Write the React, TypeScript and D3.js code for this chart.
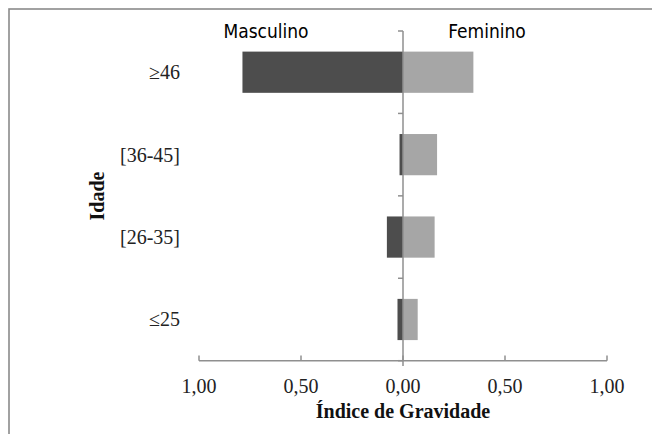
import React from "react";
import * as d3 from "d3";

// faixas etárias, de cima para baixo
const ageGroups = ["≥46", "[36-45]", "[26-35]", "≤25"];
const masculino = [0.787, 0.017, 0.079, 0.027];
const feminino = [0.345, 0.167, 0.155, 0.072];
const xTicks = [-1, -0.5, 0, 0.5, 1];

const W = 652;
const H = 434;

export default function App() {
  const x = d3.scaleLinear().domain([-1, 1]).range([199, 607]);
  const y = d3.scaleBand().domain(ageGroups).range([31, 360.7]).paddingInner(0.5).paddingOuter(0.25);
  const yBand = d3.scaleBand().domain(ageGroups).range([31, 360.7]);
  const fmt = (v: number) => d3.format(".2f")(Math.abs(v)).replace(".", ",");
  const axisColor = "#8f8f8f";
  const serif = "'Liberation Serif', 'Times New Roman', serif";
  const sans = "'DejaVu Sans Condensed', 'DejaVu Sans', sans-serif";

  return (
    <svg width={W} height={H} style={{ position: "absolute", left: 0, top: 0 }}>
      <rect x={0} y={0} width={W} height={H} fill="#fff" />
      <rect x={9} y={9} width={W + 20} height={H + 20} fill="none" stroke="#8a8a8a" strokeWidth={1.6} />

      {/* barras */}
      {ageGroups.map((g, i) => (
        <g key={g}>
          <rect
            x={x(-masculino[i])}
            y={y(g)}
            width={x(0) - x(-masculino[i])}
            height={y.bandwidth()}
            fill="#4d4d4d"
          />
          <rect
            x={x(0)}
            y={y(g)}
            width={x(feminino[i]) - x(0)}
            height={y.bandwidth()}
            fill="#a6a6a6"
          />
          <text
            x={180}
            y={(y(g) as number) + y.bandwidth() / 2}
            dy="0.35em"
            textAnchor="end"
            fontFamily={serif}
            fontSize={20}
            fill="#222"
          >
            {g}
          </text>
        </g>
      ))}

      {/* eixo vertical */}
      <line x1={x(0)} x2={x(0)} y1={31} y2={366} stroke={axisColor} strokeWidth={1.5} />
      {ageGroups.map((g) => (
        <line key={g} x1={x(0) - 5} x2={x(0)} y1={yBand(g)} y2={yBand(g)} stroke={axisColor} strokeWidth={1.5} />
      ))}
      <line x1={x(0) - 5} x2={x(0)} y1={360.7} y2={360.7} stroke={axisColor} strokeWidth={1.5} />

      {/* eixo horizontal */}
      <line x1={x(-1)} x2={x(1)} y1={360.7} y2={360.7} stroke={axisColor} strokeWidth={1.5} />
      {xTicks.map((t) => (
        <g key={t}>
          <line x1={x(t)} x2={x(t)} y1={355.5} y2={360.7} stroke={axisColor} strokeWidth={1.5} />
          <text x={x(t)} y={393} textAnchor="middle" fontFamily={serif} fontSize={20} fill="#222">
            {fmt(t)}
          </text>
        </g>
      ))}

      <text x={x(0)} y={418} textAnchor="middle" fontFamily={serif} fontSize={20} fontWeight="bold" fill="#111">
        Índice de Gravidade
      </text>
      <text
        transform={`translate(104, ${196}) rotate(-90)`}
        textAnchor="middle"
        fontFamily={serif}
        fontSize={20}
        fontWeight="bold"
        fill="#111"
      >
        Idade
      </text>

      <text x={266} y={38} textAnchor="middle" fontFamily={sans} fontSize={19} fill="#000">
        Masculino
      </text>
      <text x={487} y={38} textAnchor="middle" fontFamily={sans} fontSize={19} fill="#000">
        Feminino
      </text>
    </svg>
  );
}
